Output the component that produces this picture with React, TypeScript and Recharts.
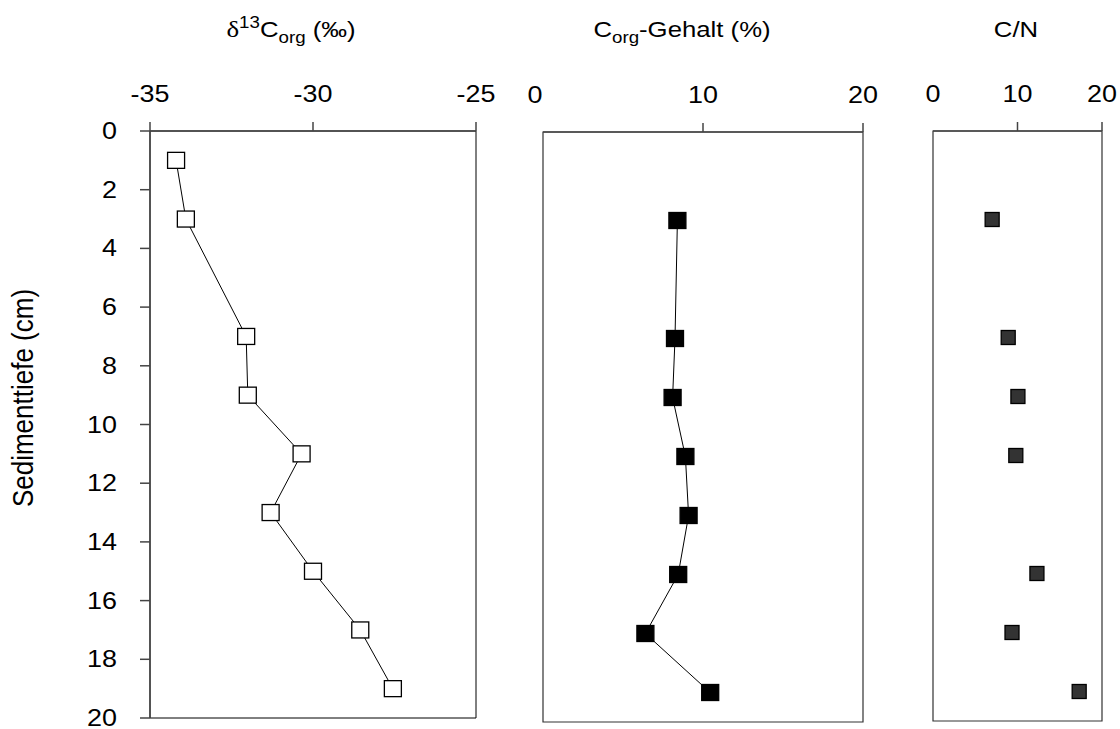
import { ScatterChart, Scatter, XAxis, YAxis, ReferenceArea } from "recharts"

const depthsC13 = [1, 3, 7, 9, 11, 13, 15, 17, 19]
const d13C = [-34.2, -33.9, -32.05, -32.0, -30.35, -31.3, -30.0, -28.55, -27.55]

const depthsCorg = [3, 7, 9, 11, 13, 15, 17, 19]
const corg = [8.4, 8.25, 8.1, 8.9, 9.1, 8.45, 6.4, 10.45]

const depthsCN = [3, 7, 9, 11, 15, 17, 19]
const cn = [7.0, 8.9, 10.05, 9.8, 12.3, 9.35, 17.3]

const depthTicks = [0, 2, 4, 6, 8, 10, 12, 14, 16, 18, 20]
const c13Ticks = [-35, -30, -25]
const pctTicks = [0, 10, 20]

const FONT = "'Liberation Sans', Arial, sans-serif"
const AXIS = "#444"

const toPoints = (depths: number[], vals: number[]) => depths.map((d, i) => ({ x: vals[i], y: d }))

const square = (w: number, h: number, fill: string) => (props: any) => (
  <rect x={props.cx - w / 2} y={props.cy - h / 2} width={w} height={h} fill={fill} stroke="#000" strokeWidth={1.3} />
)

// top axis tick: label stretched a bit, tick line drawn here so it can be skipped
const topTick = (skipLine: number[] = [], shift: Record<number, number> = {}) => (props: any) => {
  const { x, y, payload } = props
  const v = payload.value
  return (
    <g>
      {!skipLine.includes(v) && <line x1={x} x2={x} y1={y + 20} y2={y + 29} stroke={AXIS} strokeWidth={1.5} />}
      <text transform={`translate(${x + (shift[v] ?? 0)},${y}) scale(1.17,1)`} textAnchor="middle" fontSize={23} fontFamily={FONT} fill="#000">
        {v}
      </text>
    </g>
  )
}

const leftTick = (props: any) => {
  const { x, y, payload } = props
  return (
    <text transform={`translate(${x},${y + 8}) scale(1.17,1)`} textAnchor="end" fontSize={23} fontFamily={FONT} fill="#000">
      {payload.value}
    </text>
  )
}

export default function App() {
  return (
    <div style={{ position: "absolute", left: 0, top: 0, width: 1120, height: 729, background: "#fff" }}>
      <div style={{ position: "absolute", left: 0, top: 0 }}>
        <ScatterChart width={500} height={729} margin={{ top: 81, left: 80, right: 24, bottom: 11 }}>
          <XAxis
            type="number"
            dataKey="x"
            orientation="top"
            domain={[-35, -25]}
            ticks={c13Ticks}
            height={50}
            tickSize={9}
            tickMargin={20}
            tickLine={false}
            axisLine={{ stroke: AXIS, strokeWidth: 1.5 }}
            tick={topTick()}
          />
          <YAxis
            type="number"
            dataKey="y"
            domain={[0, 20]}
            reversed
            ticks={depthTicks}
            width={70}
            tickSize={10}
            tickMargin={23}
            tickLine={{ stroke: AXIS, strokeWidth: 1.5 }}
            axisLine={{ stroke: AXIS, strokeWidth: 1.5 }}
            tick={leftTick}
          />
          <ReferenceArea x1={-35} x2={-25} y1={0} y2={20} fill="none" stroke="#000" strokeWidth={1} ifOverflow="visible" />
          <Scatter
            data={toPoints(depthsC13, d13C)}
            line={{ stroke: "#000", strokeWidth: 1 }}
            lineType="joint"
            shape={square(17, 16, "#fff")}
            isAnimationActive={false}
          />
        </ScatterChart>
      </div>

      <div style={{ position: "absolute", left: 500, top: 0 }}>
        <ScatterChart width={390} height={729} margin={{ top: 82, left: 43, right: 27, bottom: 7 }}>
          <XAxis
            type="number"
            dataKey="x"
            orientation="top"
            domain={[0, 20]}
            ticks={pctTicks}
            height={50}
            tickSize={9}
            tickMargin={20}
            tickLine={false}
            axisLine={{ stroke: AXIS, strokeWidth: 1.5 }}
            tick={topTick([0], { 0: -8 })}
          />
          <YAxis type="number" dataKey="y" domain={[0, 20]} reversed hide />
          <ReferenceArea x1={0} x2={20} y1={0} y2={20} fill="none" stroke="#333" strokeWidth={1.2} ifOverflow="visible" />
          <Scatter
            data={toPoints(depthsCorg, corg)}
            line={{ stroke: "#000", strokeWidth: 1 }}
            lineType="joint"
            shape={square(17, 16, "#000")}
            isAnimationActive={false}
          />
        </ScatterChart>
      </div>

      <div style={{ position: "absolute", left: 900, top: 0 }}>
        <ScatterChart width={220} height={729} margin={{ top: 81, left: 33, right: 18, bottom: 8 }}>
          <XAxis
            type="number"
            dataKey="x"
            orientation="top"
            domain={[0, 20]}
            ticks={pctTicks}
            height={50}
            tickSize={9}
            tickMargin={20}
            tickLine={false}
            axisLine={{ stroke: AXIS, strokeWidth: 1.5 }}
            tick={topTick([0])}
          />
          <YAxis type="number" dataKey="y" domain={[0, 20]} reversed hide />
          <ReferenceArea x1={0} x2={20} y1={0} y2={20} fill="none" stroke="#333" strokeWidth={1.2} ifOverflow="visible" />
          <Scatter data={toPoints(depthsCN, cn)} shape={square(14, 14, "#333")} isAnimationActive={false} />
        </ScatterChart>
      </div>

      <svg width={1120} height={729} style={{ position: "absolute", left: 0, top: 0, pointerEvents: "none" }}>
        <g fontFamily={FONT} fontSize={22} fill="#000">
          <text transform="translate(291,37) scale(1.17,1)" textAnchor="middle">
            <tspan fontFamily="'Liberation Serif', serif" fontSize={23}>δ</tspan>
            <tspan fontSize={16} dy={-9}>13</tspan>
            <tspan dy={9}>C</tspan>
            <tspan fontSize={16} dy={6}>org</tspan>
            <tspan dy={-6}> (‰)</tspan>
          </text>
          <text transform="translate(682,37) scale(1.17,1)" textAnchor="middle">
            <tspan>C</tspan>
            <tspan fontSize={16} dy={6}>org</tspan>
            <tspan dy={-6}>-Gehalt (%)</tspan>
          </text>
          <text transform="translate(1016,37) scale(1.17,1)" textAnchor="middle">
            C/N
          </text>
          <text transform="translate(33,398) rotate(-90) scale(1,1.1)" textAnchor="middle" fontSize={26}>
            Sedimenttiefe (cm)
          </text>
        </g>
      </svg>
    </div>
  )
}
